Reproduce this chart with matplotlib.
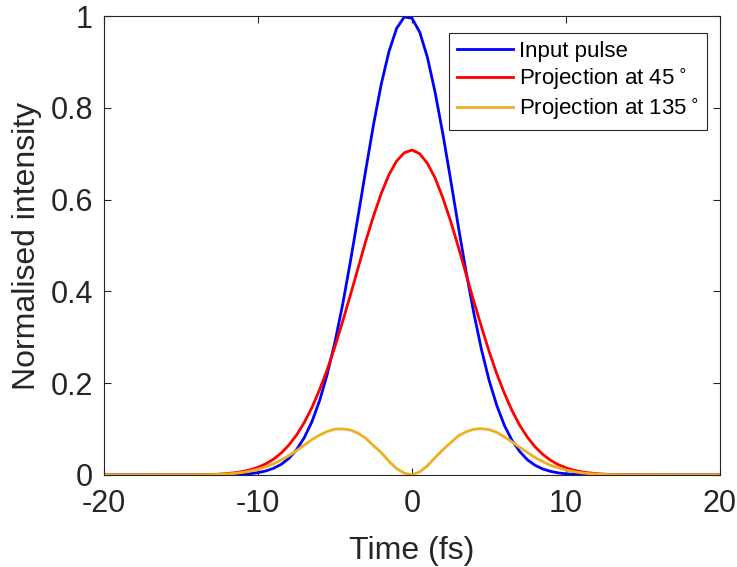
import matplotlib
matplotlib.use("Agg")
import matplotlib.pyplot as plt

# time axis (fs) and normalised intensities
time_fs = [-20, -17, -14, -13.5, -13, -12.5, -12, -11.5, -11, -10.5, -10,
           -9.5, -9, -8.5, -8, -7.5, -7, -6.5, -6, -5.5, -5, -4.5, -4,
           -3.5, -3, -2.5, -2, -1.5, -1, -0.5, 0, 0.5, 1, 1.5, 2, 2.5, 3,
           3.5, 4, 4.5, 5, 5.5, 6, 6.5, 7, 7.5, 8, 8.5, 9, 9.5, 10, 10.5,
           11, 11.5, 12, 12.5, 13, 13.5, 14, 17, 20]

input_pulse = [0, 0, 0, 0.0001, 0.0001, 0.0002, 0.0005, 0.0009, 0.0016, 0.0029, 0.0051,
               0.0087, 0.0144, 0.0231, 0.036, 0.055, 0.081, 0.116, 0.162, 0.220, 0.290, 0.372, 0.465,
               0.564, 0.665, 0.763, 0.851, 0.922, 0.973, 0.998, 0.995, 0.965, 0.910, 0.834, 0.744, 0.645, 0.543,
               0.445, 0.355, 0.275, 0.207, 0.152, 0.108, 0.075, 0.051, 0.033, 0.021, 0.013, 0.0079, 0.0046, 0.0026, 0.0015,
               0.0008, 0.0004, 0.0002, 0.0001, 0, 0, 0, 0, 0]

proj_45 = [0, 0, 0.0005, 0.0008, 0.0012, 0.0020, 0.0032, 0.0050, 0.0076, 0.0114, 0.0168,
           0.0242, 0.0343, 0.0476, 0.0649, 0.0869, 0.114, 0.147, 0.186, 0.230, 0.280, 0.335, 0.392,
           0.451, 0.510, 0.564, 0.613, 0.654, 0.684, 0.702, 0.708, 0.700, 0.679, 0.647, 0.604, 0.554, 0.498,
           0.439, 0.380, 0.324, 0.270, 0.221, 0.178, 0.140, 0.108, 0.0821, 0.0611, 0.0447, 0.0321, 0.0226, 0.0156, 0.0105,
           0.0070, 0.0046, 0.0029, 0.0018, 0.0011, 0.0007, 0.0004, 0, 0]

proj_135 = [0, 0, 0.0003, 0.0005, 0.0008, 0.0014, 0.0023, 0.0036, 0.0056, 0.0085, 0.0124,
            0.0176, 0.024, 0.033, 0.042, 0.053, 0.065, 0.077, 0.087, 0.095, 0.100, 0.1005, 0.098,
            0.091, 0.080, 0.064, 0.049, 0.030, 0.014, 0.004, 0.0003, 0.007, 0.020, 0.038, 0.055, 0.070, 0.085,
            0.094, 0.0995, 0.101, 0.099, 0.093, 0.083, 0.072, 0.060, 0.049, 0.038, 0.029, 0.021, 0.0155, 0.0108, 0.0073,
            0.0048, 0.0031, 0.0019, 0.0012, 0.0007, 0.0004, 0.0002, 0, 0]

legend_labels = ['Input pulse', 'Projection at 45$\\,^{\\circ}$', 'Projection at 135$\\,^{\\circ}$']
x_ticks = [-20, -10, 0, 10, 20]
y_ticks = [0, 0.2, 0.4, 0.6, 0.8, 1]
y_tick_labels = ['0', '0.2', '0.4', '0.6', '0.8', '1']

plt.rcParams['font.family'] = ['Liberation Sans', 'DejaVu Sans']
plt.rcParams['mathtext.fontset'] = 'dejavusans'

axcol = '#262626'
fig = plt.figure(figsize=(7.37, 5.67), dpi=100)
ax = fig.add_axes([104 / 737, 1 - 475 / 567, (720 - 104) / 737, (475 - 16) / 567])

ax.plot(time_fs, input_pulse, color='#0000FF', lw=2, label=legend_labels[0])
ax.plot(time_fs, proj_45, color='#FF0000', lw=2, label=legend_labels[1])
ax.plot(time_fs, proj_135, color='#EDB120', lw=2, label=legend_labels[2])

ax.set_xlim(-20, 20)
ax.set_ylim(0, 1)
ax.set_xticks(x_ticks)
ax.set_xticklabels([str(v) for v in x_ticks])
ax.set_yticks(y_ticks)
ax.set_yticklabels(y_tick_labels)
ax.tick_params(direction='in', length=5, width=0.8, colors=axcol, labelsize=22,
               top=True, right=True)
ax.tick_params(axis='x', pad=10)
ax.tick_params(axis='y', pad=8)
for s in ax.spines.values():
    s.set_color(axcol)
    s.set_linewidth(0.8)

ax.set_xlabel('Time (fs)', fontsize=23, color=axcol, labelpad=12)
ax.set_ylabel('Normalised intensity', fontsize=23, color=axcol, labelpad=6)

leg = ax.legend(loc='upper right', bbox_to_anchor=(0.979, 0.963), borderaxespad=0,
                fontsize=16, handlelength=2.5, handletextpad=0.3, borderpad=0.35,
                labelspacing=0.2, fancybox=False, framealpha=1)
leg.get_frame().set_edgecolor(axcol)
leg.get_frame().set_linewidth(0.8)

fig.savefig('out.png', dpi=100)
